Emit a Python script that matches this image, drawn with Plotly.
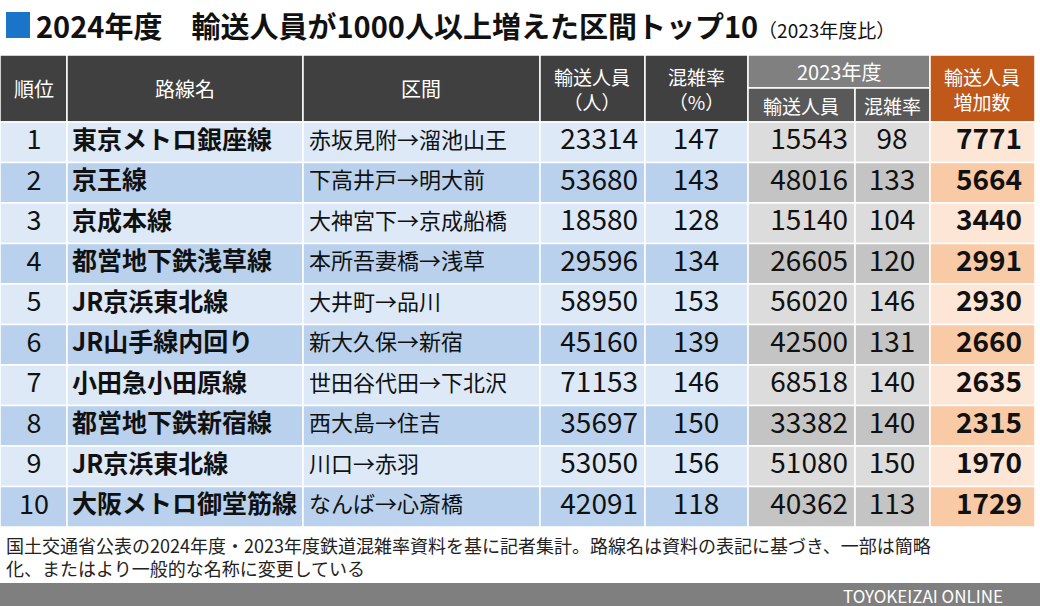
import plotly.graph_objects as go

ranks = [str(i) for i in range(1, 11)]
lines = ["東京メトロ銀座線", "京王線", "京成本線", "都営地下鉄浅草線", "JR京浜東北線",
         "JR山手線内回り", "小田急小田原線", "都営地下鉄新宿線", "JR京浜東北線", "大阪メトロ御堂筋線"]
sections = ["赤坂見附→溜池山王", "下高井戸→明大前", "大神宮下→京成船橋", "本所吾妻橋→浅草", "大井町→品川",
            "新大久保→新宿", "世田谷代田→下北沢", "西大島→住吉", "川口→赤羽", "なんば→心斎橋"]
riders_2024 = [23314, 53680, 18580, 29596, 58950, 45160, 71153, 35697, 53050, 42091]
rate_2024 = [147, 143, 128, 134, 153, 139, 146, 150, 156, 118]
riders_2023 = [15543, 48016, 15140, 26605, 56020, 42500, 68518, 33382, 51080, 40362]
rate_2023 = [98, 133, 104, 120, 146, 131, 140, 140, 150, 113]
increase = [7771, 5664, 3440, 2991, 2930, 2660, 2635, 2315, 1970, 1729]

FONT = "Noto Sans CJK JP"
W, H = 1040, 606
cols = [0, 67, 303, 540, 645, 748, 855, 930, 1035]
top_head, mid_head, top_body, row_h = 55, 88, 122, 40.5

fig = go.Figure()
shapes = []

def rect(x0, y0, x1, y1, color):
    shapes.append(dict(type="rect", xref="x", yref="y", x0=x0, x1=x1, y0=y0, y1=y1,
                       fillcolor=color, line=dict(color="white", width=1.5), layer="below"))

# header
for i in range(5):
    rect(cols[i], top_head, cols[i + 1], top_body, "#404040")
rect(cols[5], top_head, cols[7], mid_head, "#808080")
rect(cols[5], mid_head, cols[6], top_body, "#595959")
rect(cols[6], mid_head, cols[7], top_body, "#595959")
rect(cols[7], top_head, cols[8], top_body, "#c0581a")

# body
n = len(ranks)
for r in range(n):
    y0 = top_body + r * row_h
    y1 = y0 + row_h
    alt = r % 2 == 1
    for c in range(5):
        rect(cols[c], y0, cols[c + 1], y1, "#b9d1ec" if alt else "#dde9f6")
    for c in (5, 6):
        rect(cols[c], y0, cols[c + 1], y1, "#c4c4c4" if alt else "#dcdcdc")
    rect(cols[7], y0, cols[8], y1, "#f9caa6" if alt else "#fde6d6")

# footer bar
shapes.append(dict(type="rect", xref="x", yref="y", x0=0, x1=W, y0=583, y1=606,
                   fillcolor="#7f7f7f", line=dict(width=0), layer="below"))
# title square
shapes.append(dict(type="rect", xref="x", yref="y", x0=6, x1=30, y0=12, y1=38,
                   fillcolor="#1a75c9", line=dict(width=0)))

ys = [top_body + (r + 0.5) * row_h for r in range(n)]

def col_text(x, vals, size, pos, bold=False):
    txt = [f"<b>{v}</b>" if bold else str(v) for v in vals]
    fig.add_trace(go.Scatter(x=[x] * n, y=ys, mode="text", text=txt, textposition=pos,
                             textfont=dict(family=FONT, size=size, color="#111"),
                             hoverinfo="skip", showlegend=False))

col_text(34, ranks, 27, "middle center")
col_text(72, lines, 25, "middle right", bold=True)
col_text(309, sections, 22, "middle right")
col_text(638, riders_2024, 28, "middle left")
col_text(696, rate_2024, 28, "middle center")
col_text(848, riders_2023, 28, "middle left")
col_text(892, rate_2023, 28, "middle center")
col_text(1022, increase, 28, "middle left", bold=True)

ann = []
def label(x, y, text, size, color="white", anchor="center"):
    ann.append(dict(x=x, y=y, xref="x", yref="y", text=text, showarrow=False, xanchor=anchor,
                    yanchor="middle", font=dict(family=FONT, size=size, color=color)))

hy = (top_head + top_body) / 2
label(34, hy, "順位", 20)
label(185, hy, "路線名", 20)
label(421, hy, "区間", 20)
label(592, hy, "輸送人員<br>（人）", 19)
label(696, hy, "混雑率<br>（%）", 19)
label(839, (top_head + mid_head) / 2, "2023年度", 20)
label(801, (mid_head + top_body) / 2, "輸送人員", 19)
label(892, (mid_head + top_body) / 2, "混雑率", 19)
label(982, hy, "輸送人員<br>増加数", 19)
label(34, 25, "<b>2024年度　輸送人員が1000人以上増えた区間トップ10</b><span style='font-size:19px'>（2023年度比）</span>",
      29, "#111", "left")
label(4, 556, "国土交通省公表の2024年度・2023年度鉄道混雑率資料を基に記者集計。路線名は資料の表記に基づき、一部は簡略<br>化、またはより一般的な名称に変更している",
      18, "#222", "left")
ann[-1]["align"] = "left"
label(1005, 595, "TOYOKEIZAI ONLINE", 17, "white", "right")

fig.update_layout(
    width=W, height=H, margin=dict(l=0, r=0, t=0, b=0),
    paper_bgcolor="white", plot_bgcolor="white",
    xaxis=dict(range=[0, W], visible=False, fixedrange=True),
    yaxis=dict(range=[H, 0], visible=False, fixedrange=True),
    shapes=shapes, annotations=ann,
)
fig.write_html("out.html", config={"displayModeBar": False},
               post_script="document.body.style.margin='0';document.body.style.overflow='hidden';")
